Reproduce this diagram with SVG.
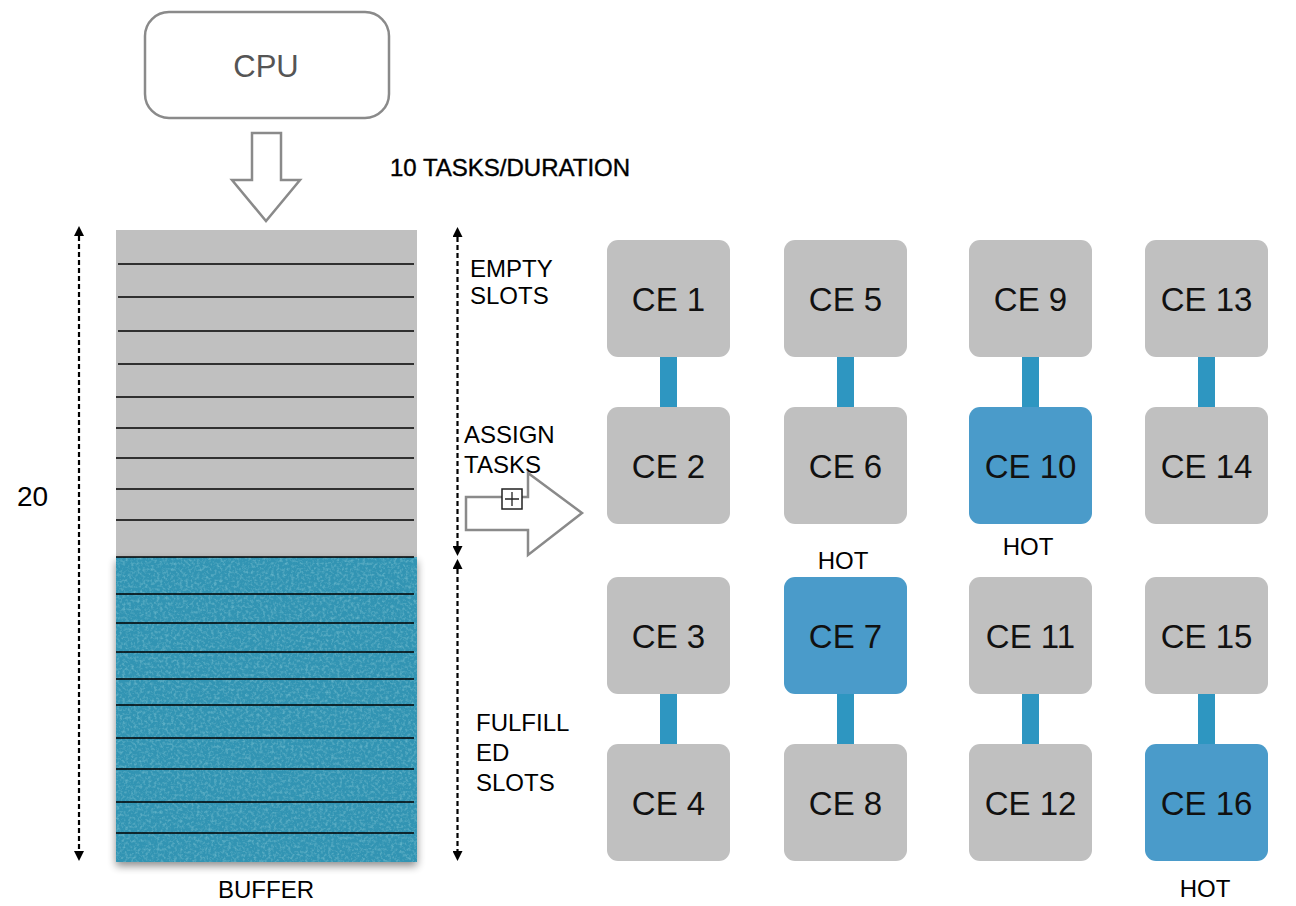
<svg xmlns="http://www.w3.org/2000/svg" width="1296" height="906" viewBox="0 0 1296 906">
<style>
  text { font-family: "Liberation Sans", Arial, sans-serif; fill: #000; }
  .lbl { font-size: 24px; }
  .ce-text { font-size: 33px; fill: #111; text-anchor: middle; }
  .ce { fill: #c0c0c0; }
  .hot { fill: #4a9bca; }
  .link { fill: #2e96c1; }
  .slot { stroke: #000; stroke-width: 1.3; }
  .outline { fill: #fff; stroke: #8a8a8a; stroke-width: 2.5; }
  .dash { stroke: #000; stroke-width: 2.2; stroke-dasharray: 5 3; fill: none; }
</style>
<defs>
  <marker id="ah" viewBox="0 0 10 10" refX="0" refY="5" markerWidth="11" markerHeight="10" markerUnits="userSpaceOnUse" orient="auto-start-reverse">
    <path d="M0,0 L10,5 L0,10 z" fill="#000"/>
  </marker>
  <filter id="shadow" x="-10%" y="-10%" width="120%" height="130%">
    <feGaussianBlur stdDeviation="4"/>
  </filter>
  <filter id="tex" x="0" y="0" width="100%" height="100%">
    <feTurbulence type="fractalNoise" baseFrequency="0.35" numOctaves="3" seed="3" result="n"/>
    <feColorMatrix in="n" type="matrix" values="0 0 0 0 0.12  0 0 0 0 0.45  0 0 0 0 0.58  0 0 0 2.2 -1.0" result="c"/>
    <feComposite in="c" in2="SourceGraphic" operator="in" result="ci"/>
    <feMerge><feMergeNode in="SourceGraphic"/><feMergeNode in="ci"/></feMerge>
  </filter>
</defs>
<rect width="1296" height="906" fill="#fff"/>

<g id="cpu">
  <rect x="145" y="12" width="244" height="106" rx="24" class="outline"/>
  <text x="266" y="77" text-anchor="middle" style="font-size:31px;fill:#555">CPU</text>
</g>

<g id="cpu-arrow">
  <path d="M252,133 L281,133 L281,180 L300,180 L266,221 L232,180 L252,180 Z" class="outline"/>
</g>
<text x="390" y="176" class="lbl" style="font-size:24px;stroke:#000;stroke-width:0.4">10 TASKS/DURATION</text>

<g id="buffer">
  <rect x="116" y="230" width="301" height="327" fill="#c0c0c0"/>
  <rect x="116" y="561" width="301" height="305" fill="#000" opacity="0.45" filter="url(#shadow)"/>
  <rect x="116" y="557" width="301" height="305" fill="#3194b3" filter="url(#tex)"/>
  <g class="slot">
    <line x1="118" y1="264" x2="414" y2="264"/>
    <line x1="118" y1="297" x2="414" y2="297"/>
    <line x1="118" y1="331" x2="414" y2="331"/>
    <line x1="118" y1="364" x2="414" y2="364"/>
    <line x1="116" y1="397" x2="414" y2="397"/>
    <line x1="116" y1="428" x2="414" y2="428"/>
    <line x1="116" y1="458" x2="414" y2="458"/>
    <line x1="116" y1="489" x2="414" y2="489"/>
    <line x1="116" y1="520" x2="414" y2="520"/>
    <line x1="116" y1="557" x2="414" y2="557"/>
    <line x1="116" y1="594" x2="414" y2="594"/>
    <line x1="116" y1="623" x2="414" y2="623"/>
    <line x1="116" y1="652" x2="414" y2="652"/>
    <line x1="116" y1="679" x2="414" y2="679"/>
    <line x1="116" y1="705" x2="414" y2="705"/>
    <line x1="116" y1="738" x2="414" y2="738"/>
    <line x1="116" y1="769" x2="414" y2="769"/>
    <line x1="116" y1="802" x2="414" y2="802"/>
    <line x1="116" y1="833" x2="414" y2="833"/>
  </g>
  <text x="266" y="898" text-anchor="middle" class="lbl">BUFFER</text>
</g>

<g id="dimensions">
  <line x1="79" y1="236" x2="79" y2="851" class="dash" marker-start="url(#ah)" marker-end="url(#ah)"/>
  <text x="17" y="506" style="font-size:28px">20</text>
  <line x1="457.5" y1="237" x2="457.5" y2="546" class="dash" marker-start="url(#ah)" marker-end="url(#ah)"/>
  <line x1="457.5" y1="569" x2="457.5" y2="851" class="dash" marker-start="url(#ah)" marker-end="url(#ah)"/>
  <text x="470" y="277" class="lbl">EMPTY</text>
  <text x="470" y="304" class="lbl">SLOTS</text>
  <text x="464" y="443" class="lbl">ASSIGN</text>
  <text x="464" y="473" class="lbl">TASKS</text>
  <text x="476" y="731" class="lbl">FULFILL</text>
  <text x="476" y="761" class="lbl">ED</text>
  <text x="476" y="791" class="lbl">SLOTS</text>
</g>

<g id="assign-arrow">
  <path d="M466,497 L528,497 L528,473 L582,513 L528,555 L528,530 L466,530 Z" class="outline"/>
  <rect x="502" y="489" width="20" height="20" fill="#fff" stroke="#222" stroke-width="1.5"/>
  <path d="M512,492 V506 M505,499 H519" stroke="#222" stroke-width="1.3"/>
</g>

<g id="connectors">
  <rect x="660" y="356" width="17" height="52" class="link"/>
  <rect x="837" y="356" width="17" height="52" class="link"/>
  <rect x="1022" y="356" width="17" height="52" class="link"/>
  <rect x="1198" y="356" width="17" height="52" class="link"/>
  <rect x="660" y="693" width="17" height="52" class="link"/>
  <rect x="837" y="693" width="17" height="52" class="link"/>
  <rect x="1022" y="693" width="17" height="52" class="link"/>
  <rect x="1198" y="693" width="17" height="52" class="link"/>
</g>

<g id="ce1"><rect x="607" y="240" width="123" height="117" rx="11" class="ce"/><text x="668.5" y="311" class="ce-text">CE 1</text></g>
<g id="ce2"><rect x="607" y="407" width="123" height="117" rx="11" class="ce"/><text x="668.5" y="478" class="ce-text">CE 2</text></g>
<g id="ce3"><rect x="607" y="577" width="123" height="117" rx="11" class="ce"/><text x="668.5" y="648" class="ce-text">CE 3</text></g>
<g id="ce4"><rect x="607" y="744" width="123" height="117" rx="11" class="ce"/><text x="668.5" y="815" class="ce-text">CE 4</text></g>

<g id="ce5"><rect x="784" y="240" width="123" height="117" rx="11" class="ce"/><text x="845.5" y="311" class="ce-text">CE 5</text></g>
<g id="ce6"><rect x="784" y="407" width="123" height="117" rx="11" class="ce"/><text x="845.5" y="478" class="ce-text">CE 6</text></g>
<g id="ce7"><rect x="784" y="577" width="123" height="117" rx="11" class="hot"/><text x="845.5" y="648" class="ce-text">CE 7</text><text x="843" y="569" text-anchor="middle" class="lbl">HOT</text></g>
<g id="ce8"><rect x="784" y="744" width="123" height="117" rx="11" class="ce"/><text x="845.5" y="815" class="ce-text">CE 8</text></g>

<g id="ce9"><rect x="969" y="240" width="123" height="117" rx="11" class="ce"/><text x="1030.5" y="311" class="ce-text">CE 9</text></g>
<g id="ce10"><rect x="969" y="407" width="123" height="117" rx="11" class="hot"/><text x="1030.5" y="478" class="ce-text">CE 10</text><text x="1028" y="555" text-anchor="middle" class="lbl">HOT</text></g>
<g id="ce11"><rect x="969" y="577" width="123" height="117" rx="11" class="ce"/><text x="1030.5" y="648" class="ce-text">CE 11</text></g>
<g id="ce12"><rect x="969" y="744" width="123" height="117" rx="11" class="ce"/><text x="1030.5" y="815" class="ce-text">CE 12</text></g>

<g id="ce13"><rect x="1145" y="240" width="123" height="117" rx="11" class="ce"/><text x="1206.5" y="311" class="ce-text">CE 13</text></g>
<g id="ce14"><rect x="1145" y="407" width="123" height="117" rx="11" class="ce"/><text x="1206.5" y="478" class="ce-text">CE 14</text></g>
<g id="ce15"><rect x="1145" y="577" width="123" height="117" rx="11" class="ce"/><text x="1206.5" y="648" class="ce-text">CE 15</text></g>
<g id="ce16"><rect x="1145" y="744" width="123" height="117" rx="11" class="hot"/><text x="1206.5" y="815" class="ce-text">CE 16</text><text x="1205" y="897" text-anchor="middle" class="lbl">HOT</text></g>
</svg>
